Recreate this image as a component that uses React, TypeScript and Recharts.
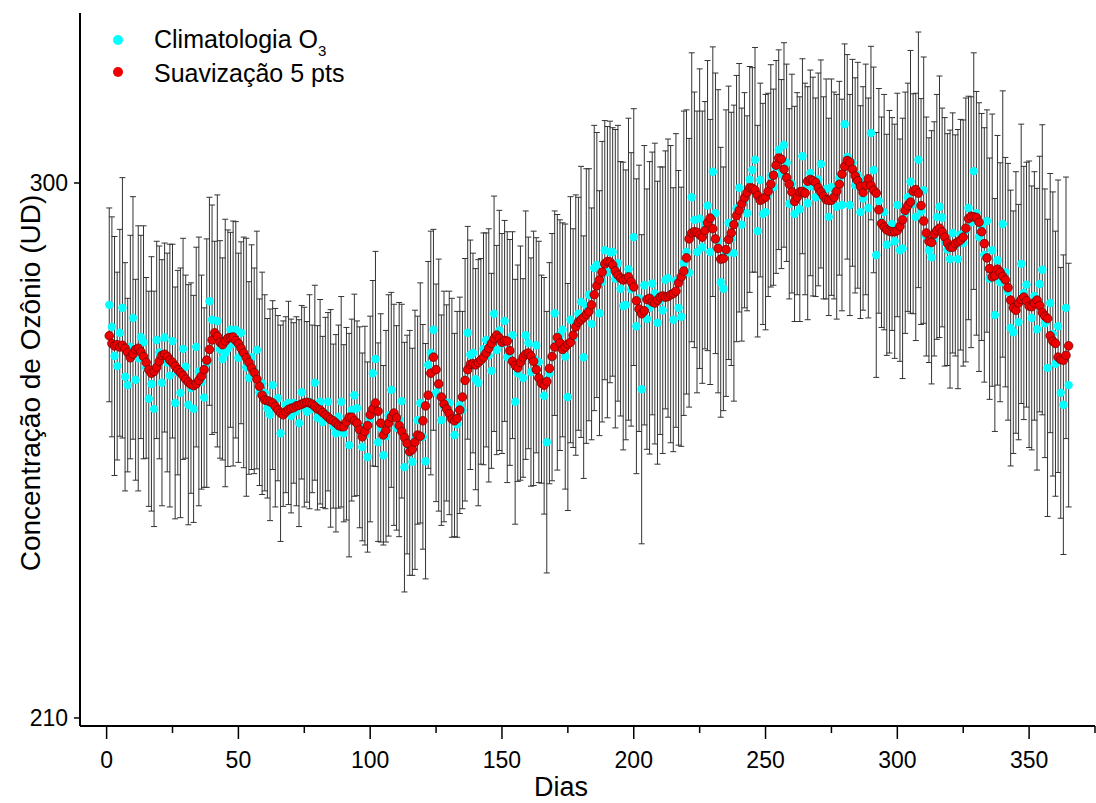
import React from 'react';
import { ComposedChart, Scatter, XAxis, YAxis, ErrorBar } from 'recharts';

// dia do ano (1..365)
const dias = Array.from({ length: 365 }, (_, i) => i + 1);

// climatologia diária de O3 (UD)
const climatologia = [
  279.5, 275.8, 270.9, 269.2, 274.8, 279.0, 267.4, 266.0, 272.4, 277.3, 266.9, 270.5, 274.1, 273.2, 268.9, 263.7, 266.2, 262.0, 273.6, 271.5,
  266.4, 274.0, 269.8, 267.6, 273.4, 263.0, 268.1, 264.7, 272.1, 269.1, 262.7, 265.5, 262.0, 272.4, 268.3, 266.5, 263.9, 269.7, 280.1, 277.0,
  274.1, 276.8, 272.0, 270.4, 271.4, 272.2, 275.3, 273.0, 275.3, 270.6, 274.8, 271.5, 269.0, 267.2, 270.7, 268.4, 271.9, 264.8, 266.3, 264.7,
  262.1, 261.0, 266.0, 262.2, 263.8, 257.9, 261.2, 262.7, 263.0, 260.8, 263.0, 261.6, 259.6, 264.8, 262.3, 261.5, 263.2, 262.0, 266.4, 260.5,
  263.2, 259.8, 261.3, 263.2, 260.4, 259.1, 257.9, 260.7, 263.2, 257.9, 259.5, 255.9, 261.8, 264.3, 262.1, 258.9, 255.6, 257.5, 253.9, 260.3,
  268.0, 270.4, 256.4, 258.8, 254.2, 257.4, 260.9, 265.2, 261.0, 258.8, 260.2, 263.3, 252.2, 256.0, 254.6, 253.1, 256.8, 260.1, 263.0, 257.3,
  253.2, 269.4, 271.4, 275.3, 264.7, 266.0, 260.1, 262.4, 263.0, 263.0, 260.5, 257.6, 259.4, 262.6, 261.8, 266.9, 274.8, 271.1, 271.4, 267.0,
  266.4, 270.0, 272.1, 273.6, 271.0, 268.4, 278.0, 271.9, 275.2, 273.0, 276.8, 270.7, 271.5, 274.4, 263.2, 268.0, 269.7, 267.2, 274.4, 273.1,
  268.2, 270.5, 272.7, 269.9, 267.0, 264.2, 256.4, 268.0, 270.7, 278.1, 273.2, 274.4, 275.3, 270.8, 264.0, 277.0, 273.9, 276.1, 278.0, 280.0,
  270.7, 279.3, 281.2, 276.3, 285.7, 286.2, 278.1, 283.4, 288.7, 285.0, 288.4, 288.4, 283.9, 286.5, 282.2, 279.3, 279.5, 285.5, 282.1, 290.9,
  275.9, 280.6, 265.3, 282.8, 277.1, 279.0, 283.1, 281.4, 276.5, 280.2, 278.6, 283.7, 284.0, 281.3, 277.0, 283.6, 279.0, 277.5, 286.5, 288.4,
  284.9, 297.6, 293.8, 288.4, 294.0, 289.2, 292.9, 296.2, 288.4, 301.9, 294.9, 290.2, 283.3, 282.2, 288.2, 293.3, 290.6, 288.2, 295.7, 299.2,
  293.0, 297.1, 294.9, 300.6, 302.2, 303.9, 291.9, 300.5, 294.8, 295.1, 298.0, 301.2, 299.3, 302.7, 305.6, 301.5, 306.4, 303.4, 296.5, 299.9,
  294.8, 298.2, 295.6, 304.5, 299.0, 296.6, 301.7, 299.4, 297.6, 300.6, 303.2, 297.5, 299.0, 294.3, 299.3, 297.9, 296.0, 300.8, 296.3, 309.9,
  304.4, 296.3, 303.4, 299.6, 301.3, 295.1, 297.4, 300.6, 295.8, 308.4, 302.2, 287.9, 297.0, 293.4, 295.1, 289.6, 291.8, 293.1, 290.2, 296.3,
  288.7, 289.0, 295.0, 297.6, 300.2, 296.5, 294.3, 303.9, 295.2, 298.8, 291.0, 288.7, 287.5, 290.6, 294.3, 296.0, 294.2, 290.1, 288.8, 287.2,
  291.6, 289.5, 287.2, 291.3, 289.9, 292.1, 295.8, 293.4, 302.0, 294.9, 290.9, 292.6, 287.9, 293.6, 283.9, 288.7, 277.8, 287.0, 283.3, 293.1,
  285.0, 281.7, 275.6, 274.9, 279.9, 276.6, 286.4, 281.5, 282.9, 279.6, 277.3, 281.0, 275.4, 283.0, 285.4, 276.4, 268.9, 279.8, 274.6, 269.6,
  275.9, 264.7, 262.7, 279.0, 266.0,
];

// suavização de 5 pontos
const suavizacao = [
  274.3, 273.0, 272.6, 272.8, 272.4, 272.7, 272.2, 271.5, 270.6, 271.2, 272.0, 272.2, 271.6, 270.8, 269.8, 268.6, 268.0, 268.3, 269.0, 270.0,
  271.0, 271.2, 270.8, 270.2, 269.8, 269.2, 268.6, 268.1, 267.6, 267.0, 266.5, 266.1, 265.9, 266.2, 266.8, 267.5, 268.6, 270.2, 272.0, 273.6,
  274.8, 274.2, 273.2, 272.8, 273.4, 273.9, 274.0, 274.1, 273.5, 273.0, 272.2, 271.4, 270.6, 269.8, 268.9, 268.1, 267.0, 265.8, 264.3, 263.5,
  263.4, 263.2, 263.0, 262.4, 261.8, 261.3, 261.0, 261.5, 261.9, 262.1, 262.2, 262.5, 262.6, 262.8, 263.0, 263.1, 263.0, 262.8, 262.4, 262.0,
  261.8, 261.4, 261.0, 260.6, 260.2, 260.0, 259.6, 259.2, 259.0, 259.0, 259.8, 260.6, 260.6, 260.0, 259.6, 258.5, 257.3, 258.2, 259.2, 261.0,
  262.0, 263.0, 261.6, 259.6, 257.6, 258.4, 259.6, 260.6, 261.3, 260.5, 259.2, 258.2, 257.2, 256.2, 254.8, 255.2, 256.4, 257.6, 257.4, 260.0,
  262.5, 264.3, 268.0, 270.7, 268.6, 266.2, 264.0, 262.8, 262.0, 261.2, 260.3, 260.0, 260.4, 261.8, 264.0, 266.8, 268.6, 269.5, 269.6, 269.4,
  269.8, 270.2, 270.7, 271.4, 272.2, 273.0, 273.8, 274.4, 273.9, 273.2, 273.5, 273.4, 271.8, 270.0, 269.3, 268.9, 269.8, 270.7, 271.2, 271.4,
  270.9, 270.0, 268.6, 267.2, 266.3, 266.0, 266.6, 268.8, 270.8, 272.4, 274.0, 273.1, 272.0, 272.4, 272.9, 273.2, 274.4, 275.8, 276.6, 277.0,
  277.4, 277.9, 278.4, 279.5, 281.2, 282.7, 283.7, 285.0, 286.4, 286.8, 286.7, 286.2, 285.2, 284.5, 284.0, 283.7, 283.9, 284.2, 283.4, 282.5,
  280.2, 278.8, 278.0, 278.5, 280.4, 280.6, 280.0, 279.8, 280.3, 280.8, 281.0, 280.8, 280.9, 281.2, 281.4, 281.8, 283.2, 284.2, 285.2, 287.4,
  290.6, 291.6, 291.8, 291.7, 291.3, 290.9, 292.0, 293.3, 294.1, 292.3, 290.6, 289.0, 287.2, 287.3, 288.8, 290.5, 291.6, 293.0, 294.5, 295.4,
  296.5, 297.5, 298.4, 299.2, 299.1, 298.8, 297.9, 297.1, 297.3, 297.6, 298.6, 299.8, 301.3, 303.0, 304.2, 304.0, 302.3, 300.9, 299.8, 298.5,
  296.9, 297.6, 298.5, 298.6, 298.3, 300.3, 300.6, 300.4, 300.1, 299.2, 298.5, 297.8, 297.2, 297.1, 297.1, 297.6, 298.6, 299.8, 301.5, 302.8,
  303.8, 303.5, 302.3, 301.2, 300.4, 299.4, 298.4, 299.6, 300.7, 299.6, 298.8, 298.3, 295.5, 293.2, 292.6, 292.1, 291.9, 291.8, 291.8, 292.0,
  292.7, 293.8, 295.4, 296.2, 296.8, 298.6, 298.9, 298.3, 296.2, 293.6, 291.6, 290.2, 290.0, 291.4, 292.0, 292.4, 291.8, 290.9, 289.9, 289.2,
  289.2, 289.8, 290.1, 290.4, 290.9, 292.4, 294.0, 294.4, 294.3, 294.2, 293.4, 291.8, 289.8, 287.4, 285.6, 284.2, 284.4, 285.5, 285.0, 284.3,
  283.7, 282.4, 280.3, 279.0, 278.6, 279.8, 280.4, 280.8, 280.2, 279.3, 279.2, 279.8, 280.3, 279.4, 278.2, 277.6, 277.2, 274.3, 273.4, 273.0,
  270.7, 270.3, 270.2, 271.0, 272.6,
];

// desvio padrão (barras de erro)
const desvio = [
  16.3, 18.5, 20.1, 15.8, 17.4, 21.9, 19.2, 14.6, 18.8, 20.4, 16.9, 22.3, 17.1, 19.6, 15.2, 18.1, 21.4, 19.8, 16.6, 17.9,
  20.7, 15.9, 18.4, 22.1, 16.3, 19.5, 17.2, 21.0, 18.6, 15.4, 20.2, 17.7, 19.1, 16.8, 22.6, 18.0, 15.1, 20.9, 17.5, 19.3,
  16.1, 21.2, 18.3, 17.0, 22.5, 19.9, 16.4, 20.6, 18.2, 17.6, 15.3, 19.4, 21.7, 16.2, 18.9, 17.3, 20.0, 15.7, 18.7, 16.5,
  15.1, 17.8, 14.2, 16.7, 13.9, 18.2, 15.6, 14.8, 17.1, 16.3, 13.5, 15.9, 17.4, 14.6, 16.8, 15.2, 18.0, 14.1, 16.4, 15.5,
  17.2, 14.4, 16.1, 15.0, 18.3, 13.8, 16.6, 15.4, 17.7, 14.9, 16.2, 18.8, 15.3, 17.0, 14.7, 16.9, 15.8, 18.4, 16.0, 17.3,
  15.6, 18.1, 16.7, 19.2, 15.1, 17.8, 20.3, 16.4, 18.6, 17.2, 19.7, 16.3, 21.0, 18.4, 20.6, 19.1, 21.8, 17.5, 20.2, 18.9,
  19.8, 17.4, 20.5, 16.9, 18.3, 21.2, 17.7, 19.4, 16.5, 18.8, 20.1, 17.1, 19.0, 18.2, 16.6, 20.4, 17.9, 19.3, 16.8, 18.6,
  20.7, 17.3, 19.5, 18.0, 21.3, 16.4, 19.8, 17.6, 20.2, 18.5, 16.9, 21.1, 19.0, 17.4, 20.6, 18.2, 19.7, 16.7, 20.9, 17.8,
  19.2, 21.4, 18.1, 20.3, 17.5, 19.9, 22.0, 18.6, 20.8, 17.2, 21.5, 19.4, 18.0, 22.3, 19.1, 20.7, 18.4, 21.9, 19.6, 22.8,
  20.4, 23.1, 21.2, 19.5, 24.0, 22.3, 20.6, 23.6, 21.8, 24.5, 22.0, 20.9, 25.1, 23.2, 21.4, 24.2, 22.7, 25.4, 23.0, 21.6,
  24.8, 22.4, 26.0, 23.5, 21.9, 24.6, 22.1, 25.3, 23.8, 22.5, 24.1, 21.7, 23.4, 25.0, 22.2, 24.7, 23.1, 21.8, 25.6, 23.9,
  22.6, 24.3, 21.5, 23.7, 25.2, 22.9, 20.8, 24.4, 22.3, 21.0, 23.6, 25.5, 22.7, 20.5, 24.1, 23.0, 21.3, 24.9, 22.4, 20.9,
  19.6, 18.1, 16.4, 19.0, 17.2, 18.9, 17.8, 16.3, 18.6, 19.8, 17.1, 18.7, 16.5, 17.9, 16.8, 15.9, 17.2, 16.6, 16.0, 18.4,
  18.1, 17.0, 18.9, 16.4, 17.8, 19.6, 17.3, 18.4, 16.7, 17.9, 17.5, 17.0, 18.5, 16.6, 18.2, 17.4, 18.9, 16.3, 17.8, 13.5,
  17.2, 18.6, 17.4, 18.1, 19.0, 17.9, 18.8, 19.4, 18.5, 14.6, 17.3, 20.6, 18.9, 17.7, 19.8, 18.6, 20.4, 17.9, 19.7, 18.8,
  18.7, 21.9, 20.3, 19.2, 22.1, 18.5, 20.8, 21.5, 19.0, 22.4, 20.1, 18.9, 21.3, 19.7, 20.6, 22.0, 18.4, 20.9, 19.5, 21.7,
  20.2, 18.6, 21.8, 19.4, 20.7, 22.2, 18.8, 21.1, 19.9, 20.5, 22.6, 19.1, 21.4, 18.7, 20.3, 22.9, 19.6, 21.0, 20.1, 22.4,
  19.3, 21.6, 23.2, 20.4, 22.0, 19.8, 23.5, 21.3, 20.6, 24.1, 22.2, 20.9, 23.7, 21.5, 24.4, 22.6, 25.0, 21.8, 23.9, 22.3,
  24.6, 21.1, 25.2, 22.0, 20.5,
];

const ticksX = [0, 25, 50, 75, 100, 125, 150, 175, 200, 225, 250, 275, 300, 325, 350, 375];
const ticksY = [210, 300];

const dados = dias.map((d, i) => ({
  dia: d,
  clim: climatologia[i],
  suav: suavizacao[i],
  erro: desvio[i],
}));

const FONTE = "'Liberation Sans', Arial, Helvetica, sans-serif";
const dominioX: [number, number] = [-10.1, 375];
const dominioY: [number, number] = [208.65, 328.6];

function TickBaixo({ x, y, payload }: any) {
  const major = payload.value % 50 === 0;
  return (
    <g>
      <line x1={x} x2={x} y1={y} y2={y + (major ? 13 : 7)} stroke="#000" strokeWidth={1.5} />
      {major && (
        <text x={x} y={y + 42} textAnchor="middle" fontSize={23} fill="#000" fontFamily={FONTE}>
          {payload.value}
        </text>
      )}
    </g>
  );
}

function TickTopo({ x, y }: any) {
  return <line x1={x} x2={x} y1={y} y2={y + 4} stroke="#000" strokeWidth={1.5} />;
}

function TickDireita({ x, y }: any) {
  return <line x1={x} x2={x - 4} y1={y} y2={y} stroke="#000" strokeWidth={1.5} />;
}

const pontoCiano = (p: any) => <circle cx={p.cx} cy={p.cy} r={4.2} fill="#00ffff" />;
const pontoVermelho = (p: any) => (
  <circle cx={p.cx} cy={p.cy} r={4.3} fill="#ee0000" stroke="#7a0000" strokeWidth={0.8} />
);

export default function App() {
  return (
    <div style={{ position: 'absolute', left: 0, top: 0, width: 1096, height: 803, background: '#fff', fontFamily: FONTE }}>
      <ComposedChart width={1096} height={803} data={dados} margin={{ top: 13, right: 1, bottom: 17, left: 0 }}>
        <XAxis
          dataKey="dia"
          type="number"
          domain={dominioX}
          ticks={ticksX}
          interval={0}
          allowDataOverflow
          height={60}
          tickSize={0}
          tickMargin={0}
          tickLine={false}
          axisLine={{ stroke: '#000', strokeWidth: 2 }}
          tick={<TickBaixo />}
        />
        <XAxis
          xAxisId="topo"
          dataKey="dia"
          type="number"
          orientation="top"
          mirror
          domain={dominioX}
          ticks={ticksX}
          interval={0}
          allowDataOverflow
          height={0}
          tickSize={0}
          tickMargin={0}
          tickLine={false}
          axisLine={{ stroke: '#000', strokeWidth: 2 }}
          tick={<TickTopo />}
        />
        <YAxis
          type="number"
          domain={dominioY}
          ticks={ticksY}
          interval={0}
          allowDataOverflow
          width={80}
          tickSize={6}
          tickMargin={6}
          tickLine={{ stroke: '#000', strokeWidth: 1.5 }}
          axisLine={{ stroke: '#000', strokeWidth: 2 }}
          tick={{ fill: '#000', fontSize: 23, fontFamily: FONTE }}
        />
        <YAxis
          yAxisId="direita"
          type="number"
          orientation="right"
          mirror
          domain={dominioY}
          ticks={ticksY}
          interval={0}
          allowDataOverflow
          width={0}
          tickSize={0}
          tickMargin={0}
          tickLine={false}
          axisLine={{ stroke: '#000', strokeWidth: 2 }}
          tick={<TickDireita />}
        />
        <Scatter dataKey="clim" fill="#00ffff" isAnimationActive={false} shape={pontoCiano}>
          <ErrorBar dataKey="erro" direction="y" width={3} stroke="#333" strokeWidth={1} isAnimationActive={false} />
        </Scatter>
        <Scatter dataKey="suav" fill="#ee0000" isAnimationActive={false} shape={pontoVermelho} />
      </ComposedChart>

      <svg
        width={1096}
        height={803}
        style={{ position: 'absolute', left: 0, top: 0, pointerEvents: 'none' }}
        fontFamily={FONTE}
      >
        <circle cx={118} cy={40} r={5} fill="#00ffff" />
        <text x={154} y={48} fontSize={25} fill="#000">
          Climatologia O
          <tspan fontSize={15} dy={8}>3</tspan>
        </text>
        <circle cx={118} cy={72} r={5} fill="#ee0000" />
        <text x={154} y={82} fontSize={25} fill="#000">Suavização 5 pts</text>
        <text x={561} y={796} fontSize={27} textAnchor="middle" fill="#000">Dias</text>
        <text
          x={40}
          y={383}
          fontSize={28}
          textAnchor="middle"
          fill="#000"
          transform="rotate(-90 40 383)"
        >
          Concentração de Ozônio (UD)
        </text>
      </svg>
    </div>
  );
}
